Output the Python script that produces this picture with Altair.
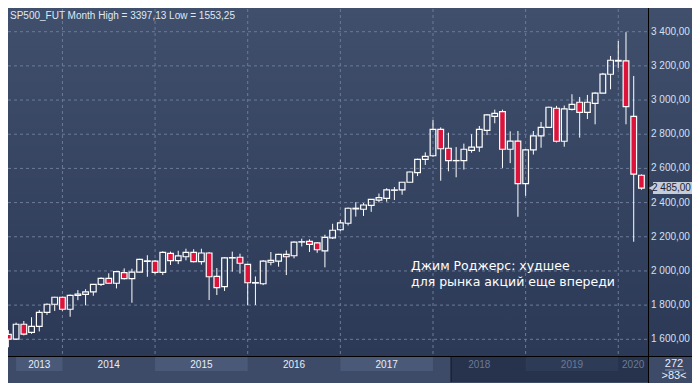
import altair as alt
import pandas as pd

# ---------------- data ----------------
months = [str(p) for p in pd.period_range("2013-06", "2020-04", freq="M")]

opens = [
    1629, 1601, 1688, 1641, 1676, 1758, 1805,
    1846, 1776, 1857, 1863, 1878, 1922, 1957, 1928, 1990, 1955, 1993, 2056,
    2058, 1992, 2103, 2060, 2083, 2109, 2054, 2105, 1968, 1908, 2076, 2080,
    2039, 1929, 1925, 2051, 2058, 2097, 2089, 2169, 2173, 2164, 2118, 2194,
    2241, 2279, 2363, 2361, 2384, 2415, 2425, 2472, 2474, 2519, 2575, 2653,
    2674, 2829, 2718, 2645, 2645, 2706, 2724, 2823, 2905, 2932, 2712, 2760,
    2511, 2708, 2790, 2840, 2952, 2759, 2946, 2987, 2928, 2981, 3040, 3151,
    3228, 3229, 2905, 2560,
]
highs = [
    1654, 1698, 1707, 1729, 1771, 1810, 1849,
    1850, 1862, 1888, 1893, 1924, 1962, 1986, 2000, 2015, 2013, 2071, 2092,
    2064, 2115, 2113, 2118, 2130, 2127, 2130, 2110, 2017, 2080, 2113, 2101,
    2040, 1968, 2063, 2111, 2100, 2120, 2173, 2189, 2185, 2169, 2212, 2276,
    2298, 2371, 2402, 2397, 2417, 2453, 2484, 2491, 2521, 2582, 2657, 2694,
    2883, 2840, 2809, 2725, 2745, 2800, 2848, 2916, 2944, 2944, 2817, 2819,
    2714, 2819, 2872, 2961, 2966, 2968, 3034, 3018, 3030, 3046, 3159, 3258,
    3346, 3397.13, 3141, 2565,
]
lows = [
    1553.25, 1596, 1623, 1632, 1646, 1743, 1766,
    1767, 1732, 1829, 1799, 1855, 1912, 1925, 1898, 1950, 1814, 1992, 1966,
    1981, 1976, 2035, 2040, 2062, 2050, 2037, 1830, 1859, 1883, 1996, 1985,
    1801, 1801, 1917, 2033, 2025, 1976, 2074, 2143, 2111, 2106, 2021, 2187,
    2233, 2266, 2318, 2322, 2346, 2401, 2405, 2415, 2446, 2517, 2555, 2620,
    2668, 2528, 2583, 2548, 2593, 2692, 2697, 2795, 2864, 2603, 2631, 2317,
    2440, 2681, 2721, 2838, 2752, 2727, 2939, 2780, 2889, 2858, 3040, 3063,
    3186, 2858, 2171, 2475,
]
closes = [
    1601, 1688, 1630, 1676, 1758, 1805, 1846,
    1776, 1857, 1865, 1878, 1922, 1957, 1928, 1996, 1955, 1993, 2068, 2059,
    1992, 2109, 2060, 2088, 2109, 2054, 2105, 1966, 1902, 2076, 2078, 2045,
    1931, 1932, 2058, 2062, 2097, 2083, 2169, 2171, 2156, 2124, 2197, 2238,
    2281, 2367, 2367, 2386, 2419, 2429, 2474, 2474, 2519, 2579, 2653, 2671,
    2829, 2715, 2645, 2646, 2712, 2724, 2829, 2913, 2922, 2712, 2760, 2511,
    2708, 2790, 2840, 2958, 2759, 2948, 2975, 2928, 2987, 3040, 3152, 3233,
    3232, 2961, 2566, 2485,
]

price_ticks = [1600, 1800, 2000, 2200, 2400, 2600, 2800, 3000, 3200, 3400]
years = [2013, 2014, 2015, 2016, 2017, 2018, 2019, 2020]
year_start_bar = [1, 7, 19, 31, 43, 55, 67, 79]      # bar index where each year's band starts
year_end_bar = [7, 19, 31, 43, 55, 67, 79, 82.85]
history_start_bar = [57.35]                         # start of the dark "history" strip

title_text = "SP500_FUT Month High = 3397,13 Low = 1553,25"
note_lines = ["Джим Роджерс: худшее", "для рынка акций еще впереди"]
last_price = 2485.00
bars_total = "272"
bars_visible = ">83<"

# ---------------- helpers ----------------
def ru(v):
    s = f"{v:,.2f}"
    return s.replace(",", " ").replace(".", ",")

W, H = 640, 347
FULL_W = 684
xs = alt.Scale(domain=[-0.05, 82.85], nice=False, zero=False)
ys = alt.Scale(domain=[1502.3, 3532.8], nice=False, zero=False)

df = pd.DataFrame({"month": months, "open": opens, "high": highs,
                   "low": lows, "close": closes})
df["idx"] = range(len(df))
df["top"] = df[["open", "close"]].max(axis=1)
df["bot"] = df[["open", "close"]].min(axis=1)

ticks_df = pd.DataFrame({"v": price_ticks, "label": [ru(v) for v in price_ticks]})
years_df = pd.DataFrame({"year": years, "start": year_start_bar, "end": year_end_bar})
hist_df = pd.DataFrame({"start": history_start_bar})
last_df = pd.DataFrame({"p": [last_price], "label": [ru(last_price)]})
one = pd.DataFrame({"a": [0]})

FONT = "Liberation Sans"
GRID = "#6b7b98"
LABEL = "#d4e0f2"


def X(f):
    return alt.X(f, type="quantitative", scale=xs, axis=None)


def Y(f):
    return alt.Y(f, type="quantitative", scale=ys, axis=None)


grad = {
    "gradient": "linear",
    "x1": 0, "y1": 0, "x2": 0, "y2": 1,
    "stops": [{"offset": 0, "color": "#404f6c"},
              {"offset": 1, "color": "#2b3956"}],
}

bg = alt.Chart(one).mark_rect(fill=grad).encode(
    x=alt.value(0), x2=alt.value(FULL_W), y=alt.value(-1), y2=alt.value(H))

hgrid = alt.Chart(ticks_df).mark_rule(color=GRID, strokeDash=[3, 3], strokeWidth=1).encode(
    y=Y("v"), x=alt.value(0), x2=alt.value(W))

vgrid = alt.Chart(years_df).transform_filter("datum.year >= 2014").mark_rule(
    color=GRID, strokeDash=[3, 3], strokeWidth=1).encode(
    x=X("start"), y=alt.value(0), y2=alt.value(H))

base = alt.Chart(df)
wick_up = base.mark_rule(color="white", strokeWidth=1, clip=True).encode(
    x=X("idx"), y=Y("top"), y2="high")
wick_dn = base.mark_rule(color="white", strokeWidth=1, clip=True).encode(
    x=X("idx"), y=Y("low"), y2="bot")
bodies = base.transform_calculate(
    x0="datum.idx - 0.37", x1="datum.idx + 0.37").mark_rect(
    stroke="white", strokeWidth=1.2, clip=True).encode(
    x=X("x0"), x2="x1", y=Y("top"), y2="bot",
    fill=alt.condition("datum.close < datum.open", alt.value("#dc143c"), alt.value("transparent")))

# right axis
sep_v = alt.Chart(one).mark_rule(color="black", strokeWidth=1).encode(
    x=alt.value(W + 0.5), y=alt.value(-1), y2=alt.value(H + 27))
ylabels = alt.Chart(ticks_df).mark_text(
    align="left", baseline="middle", font=FONT, fontSize=10, color=LABEL).encode(
    y=Y("v"), x=alt.value(W + 3), text="label:N")

tag_rect = alt.Chart(last_df).mark_rect(fill="#c5cdd8", yOffset=-6, y2Offset=6).encode(
    y=Y("p"), y2="p", x=alt.value(W + 5), x2=alt.value(FULL_W))
tag_tri = alt.Chart(last_df).mark_point(shape="triangle-left", filled=True, size=60,
                                        color="#c5cdd8", opacity=1).encode(
    y=Y("p"), x=alt.value(W + 4))
tag_text = alt.Chart(last_df).mark_text(
    align="left", baseline="middle", font=FONT, fontSize=10, color="#1b2232").encode(
    y=Y("p"), x=alt.value(W + 4), text="label:N")

# bottom strip
strip = alt.Chart(one).mark_rect(fill="#3d4b68").encode(
    x=alt.value(0), x2=alt.value(FULL_W), y=alt.value(H + 1), y2=alt.value(H + 27))
sep_h = alt.Chart(one).mark_rule(color="black", strokeWidth=1).encode(
    y=alt.value(H + 0.5), x=alt.value(0), x2=alt.value(FULL_W))
light_bands = alt.Chart(years_df).transform_filter(
    "datum.year % 2 == 1 && datum.year < 2018").mark_rect(fill="#4a5977").encode(
    x=X("start"), x2="end", y=alt.value(H + 1), y2=alt.value(H + 15))
hist = alt.Chart(hist_df).mark_rect(fill="#27334d").encode(
    x=X("start"), x2=alt.value(W), y=alt.value(H + 1), y2=alt.value(H + 26))
hist_edge = alt.Chart(hist_df).mark_rule(color="#1a2233", strokeWidth=1.5).encode(
    x=X("start"), y=alt.value(H + 1), y2=alt.value(H + 26))
hist_band = alt.Chart(years_df).transform_filter("datum.year == 2019").mark_rect(
    fill="#2e3b57").encode(x=X("start"), x2="end", y=alt.value(H + 1), y2=alt.value(H + 15))
year_text = alt.Chart(years_df).transform_calculate(
    mid="(datum.start + datum.end) / 2").mark_text(
    align="center", baseline="middle", font=FONT, fontSize=10).encode(
    x=X("mid"), y=alt.value(H + 8.5), text="year:N",
    color=alt.condition("datum.year >= 2018", alt.value("#6b7a94"), alt.value("#e8eef8")))

cnt_top = alt.Chart(pd.DataFrame({"t": [bars_total]})).mark_text(
    align="center", baseline="middle", font=FONT, fontSize=11, color="#e8eef8").encode(
    x=alt.value(W + 26), y=alt.value(H + 7.5), text="t:N")
cnt_line = alt.Chart(one).mark_rule(color="#8a97ad", strokeWidth=1).encode(
    x=alt.value(W + 17), x2=alt.value(W + 36), y=alt.value(H + 14))
cnt_bot = alt.Chart(pd.DataFrame({"t": [bars_visible]})).mark_text(
    align="center", baseline="middle", font=FONT, fontSize=11, color="#e8eef8").encode(
    x=alt.value(W + 26), y=alt.value(H + 20), text="t:N")

title = alt.Chart(pd.DataFrame({"t": [title_text]})).mark_text(
    align="left", baseline="middle", font=FONT, fontSize=10, color="#dfe8f5").encode(
    x=alt.value(2), y=alt.value(6.5), text="t:N")

note = alt.Chart(pd.DataFrame({"t": ["\n".join(note_lines)]})).mark_text(
    align="left", baseline="alphabetic", font="DejaVu Sans", fontSize=12.5, color="white",
    lineBreak="\n", lineHeight=16).encode(
    x=alt.value(403), y=alt.value(261), text="t:N")

chart = alt.layer(
    bg, hgrid, vgrid, wick_up, wick_dn, bodies,
    strip, light_bands, hist, hist_band, hist_edge, year_text,
    sep_h, sep_v, ylabels, tag_rect, tag_tri, tag_text,
    cnt_top, cnt_line, cnt_bot, title, note,
).properties(
    width=W, height=H,
    autosize=alt.AutoSizeParams(type="none"),
    padding={"left": 0, "top": 1, "right": 44, "bottom": 27},
    background="#1f2839",
).configure_view(stroke=None)

chart.save("out.html", embed_options={"renderer": "svg", "actions": False})
